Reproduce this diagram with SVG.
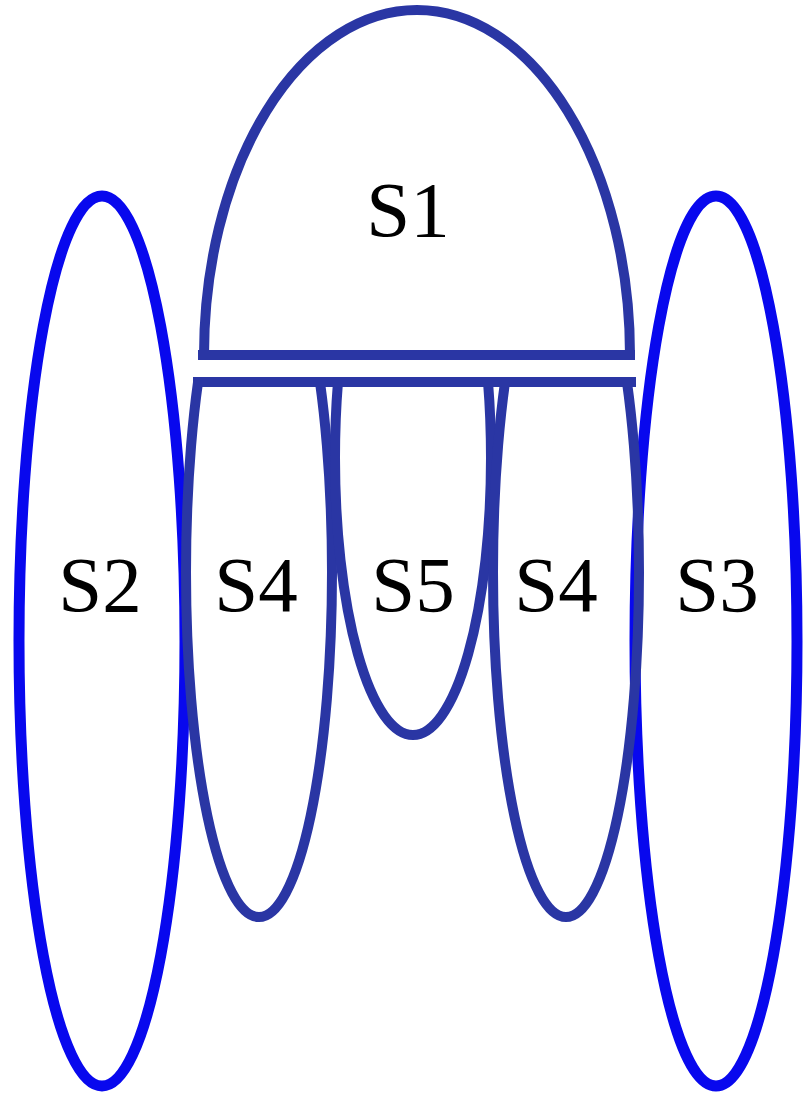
<svg xmlns="http://www.w3.org/2000/svg" width="805" height="1097" viewBox="0 0 805 1097">
<style>
.dark{fill:none;stroke:#2a36a4;stroke-width:10}
.bright{fill:none;stroke:#0808ee;stroke-width:11}
.lbl{font-family:"Liberation Serif","Times New Roman",serif;font-size:79px;fill:#000;text-anchor:middle}
</style>
<defs>
<clipPath id="below"><rect x="0" y="382" width="805" height="715"/></clipPath>
</defs>
<rect width="805" height="1097" fill="#fff"/>
<g id="S2"><ellipse class="bright" cx="102" cy="641" rx="83" ry="445"/><text class="lbl" x="100" y="611">S2</text></g>
<g id="S3"><ellipse class="bright" cx="716" cy="641" rx="81" ry="445"/><text class="lbl" x="717" y="611">S3</text></g>
<g id="S1"><path class="dark" d="M 204 355 A 213 345 0 0 1 630 355"/><line class="dark" x1="198" y1="355" x2="635" y2="355"/><text class="lbl" x="408" y="236">S1</text></g>
<g id="S4a"><ellipse class="dark" cx="259" cy="572" rx="73" ry="345" clip-path="url(#below)"/><text class="lbl" x="256" y="611">S4</text></g>
<g id="S5"><ellipse class="dark" cx="413" cy="458" rx="78" ry="277" clip-path="url(#below)"/><text class="lbl" x="413" y="611">S5</text></g>
<g id="S4b"><ellipse class="dark" cx="566" cy="572" rx="73" ry="345" clip-path="url(#below)"/><text class="lbl" x="556" y="611">S4</text></g>
<g id="connectors"><line class="dark" x1="193" y1="382" x2="636" y2="382"/></g>
</svg>
